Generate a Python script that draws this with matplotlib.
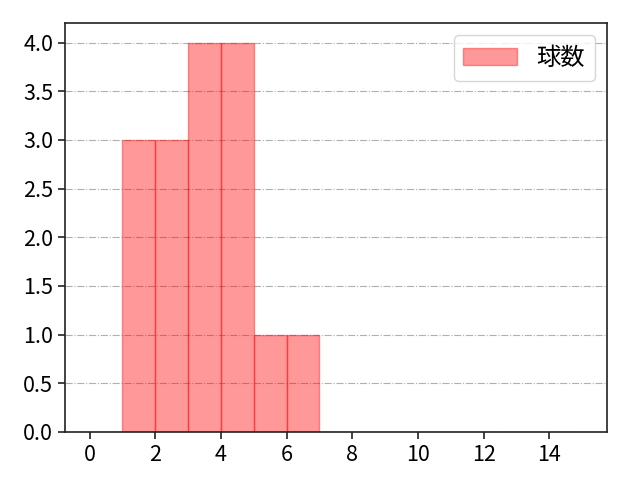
import matplotlib
matplotlib.use("Agg")
import matplotlib.pyplot as plt
import numpy as np

plt.rcParams['font.family'] = ['Noto Sans CJK JP', 'DejaVu Sans']

# histogram bins (pitch count) and counts
bin_edges = list(range(0, 16))
counts = [0, 3, 3, 4, 4, 1, 1, 0, 0, 0, 0, 0, 0, 0, 0]
label = '球数'

fig = plt.figure(figsize=(6.4, 4.8), dpi=100)
ax = fig.add_axes([0.1016, 0.1, 0.8464, 0.852])

ax.hist(bin_edges[:-1], bins=bin_edges, weights=counts,
        color='red', alpha=0.4, edgecolor='red', linewidth=1, label=label)

ax.set_xticks(np.arange(0, 15, 2))
ax.set_yticks(np.arange(0, 4.01, 0.5))
ax.yaxis.set_major_formatter(matplotlib.ticker.FormatStrFormatter('%.1f'))
ax.tick_params(labelsize=15.5, width=1.2, length=5, color='#222222')
for s in ax.spines.values():
    s.set_linewidth(1.2)
    s.set_color('#222222')
ax.grid(axis='y', linestyle='-.', color='#b0b0b0', linewidth=0.8)
ax.set_axisbelow(True)
ax.legend(fontsize=17.5, loc='upper right', handlelength=2.2)

fig.savefig('out.png', dpi=100)
